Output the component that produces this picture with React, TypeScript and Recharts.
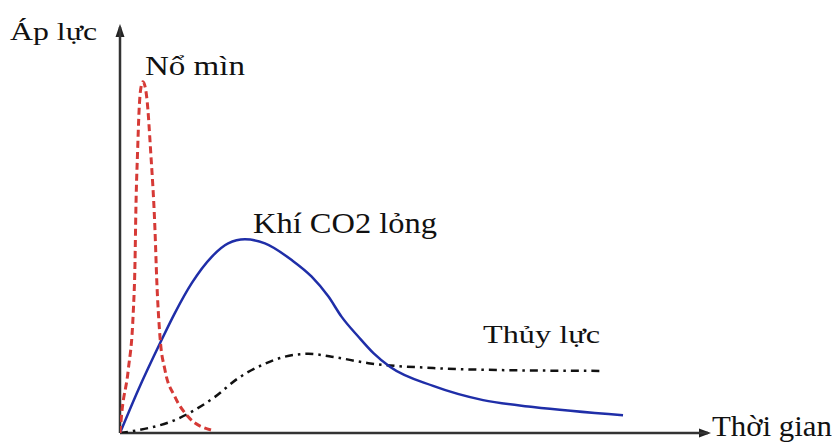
import React from "react";
import { LineChart, Line, XAxis, YAxis, ReferenceLine, Customized } from "recharts";

// Time (arbitrary units 0–200) and pressure (arbitrary units 0–100)
const blastingT = [0, 0.6, 2.8, 4.5, 5.1, 5.4, 6.0, 6.5, 7.0, 7.8, 8.7, 9.2, 10.4, 11.9, 12.5, 13.6, 15.3, 18.7, 23.2, 31.2];
const blastingP = [0, 4.9, 15.5, 29.6, 41.9, 54.9, 69.7, 79.6, 84.5, 86.5, 84.7, 82.0, 69.7, 50.0, 37.7, 23.7, 15.5, 8.9, 4.0, 0.7];

const co2T = [0, 6.2, 13.6, 18.7, 24.4, 31.2, 36.8, 42.5, 49.3, 58.4, 65.2, 70.9, 75.4, 81.1, 86.3, 91.8, 106.5, 123.5, 140.5, 171.1];
const co2P = [0, 10.6, 22.1, 29.6, 36.9, 43.4, 46.7, 47.7, 46.7, 42.6, 38.5, 33.6, 28.6, 23.7, 19.6, 16.3, 11.6, 8.1, 6.4, 4.4];

const hydraulicT = [0, 6.1, 18.7, 25.5, 32.3, 40.2, 48.2, 56.1, 64.0, 72.0, 84.5, 106.5, 129.3, 163.3];
const hydraulicP = [0, 0.7, 3.2, 5.7, 8.9, 13.5, 16.7, 18.8, 19.5, 18.8, 17.2, 16.0, 15.5, 15.3];

const seriesNames = ["Nổ mìn", "Khí CO2 lỏng", "Thủy lực"];
const axisNames = ["Áp lực", "Thời gian"];

const toRows = (ts: number[], ps: number[]) => ts.map((t, i) => ({ t, p: ps[i] }));
const blastingData = toRows(blastingT, blastingP);
const co2Data = toRows(co2T, co2P);
const hydraulicData = toRows(hydraulicT, hydraulicP);

const FONT = "Liberation Serif";

const Overlay = () => (
  <g>
    <polygon points="120,24 115.5,37 124.5,37" fill="#222" />
    <polygon points="711,433 699,428.5 699,437.5" fill="#222" />
    <text x={10} y={40} fontFamily={FONT} fontSize={26} fill="#111" textLength={87} lengthAdjust="spacingAndGlyphs">{axisNames[0]}</text>
    <text x={712} y={436} fontFamily={FONT} fontSize={29} fill="#111" textLength={120} lengthAdjust="spacingAndGlyphs">{axisNames[1]}</text>
    <text x={145} y={75} fontFamily={FONT} fontSize={28} fill="#111" textLength={100} lengthAdjust="spacingAndGlyphs">{seriesNames[0]}</text>
    <text x={253} y={233} fontFamily={FONT} fontSize={29} fill="#111" textLength={184} lengthAdjust="spacingAndGlyphs">{seriesNames[1]}</text>
    <text x={483} y={343} fontFamily={FONT} fontSize={26} fill="#111" textLength={117} lengthAdjust="spacingAndGlyphs">{seriesNames[2]}</text>
  </g>
);

export default function App() {
  return (
    <div style={{ position: "absolute", left: 0, top: 0, width: 832, height: 445, background: "#fff" }}>
      <LineChart width={832} height={445} margin={{ top: 27, right: 124, bottom: 12, left: 120 }}>
        <XAxis type="number" dataKey="t" domain={[0, 200]} hide allowDataOverflow />
        <YAxis type="number" dataKey="p" domain={[0, 100]} hide allowDataOverflow />
        <ReferenceLine y={0} stroke="#333" strokeWidth={2.5} />
        <ReferenceLine x={0} stroke="#333" strokeWidth={2.5} />
        <Line
          data={hydraulicData}
          dataKey="p"
          type="monotone"
          stroke="#111"
          strokeWidth={2.5}
          strokeDasharray="8 5 2.5 5"
          dot={false}
          isAnimationActive={false}
        />
        <Line
          data={co2Data}
          dataKey="p"
          type="monotone"
          stroke="#1f2ea8"
          strokeWidth={2.5}
          dot={false}
          isAnimationActive={false}
        />
        <Line
          data={blastingData}
          dataKey="p"
          type="monotone"
          stroke="#d63a36"
          strokeWidth={3}
          strokeDasharray="7 4"
          dot={false}
          isAnimationActive={false}
        />
        <Customized component={Overlay} />
      </LineChart>
    </div>
  );
}
